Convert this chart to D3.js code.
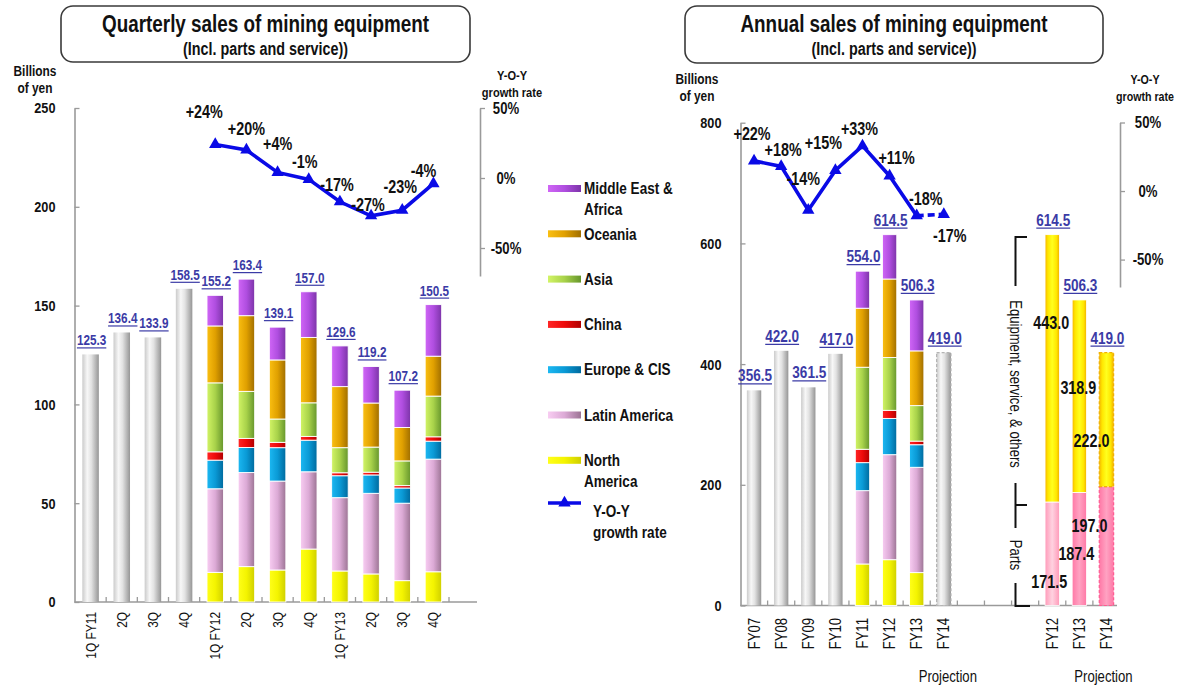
<!DOCTYPE html>
<html>
<head>
<meta charset="utf-8">
<script src="https://cdn.jsdelivr.net/npm/d3@7"></script>
<style>
  html, body { margin: 0; padding: 0; background: #ffffff; }
  svg { display: block; }
</style>
</head>
<body>
<svg id="chart" width="1184" height="696"></svg>
<script>
// ---------- data ----------
const quarterLabels = ["1Q FY11", "2Q", "3Q", "4Q", "1Q FY12", "2Q", "3Q", "4Q", "1Q FY13", "2Q", "3Q", "4Q"];
const quarterTotals = [125.3, 136.4, 133.9, 158.5, 155.2, 163.4, 139.1, 157.0, 129.6, 119.2, 107.2, 150.5];
const quarterGrowth = [null, null, null, null, 24, 20, 4, -1, -17, -27, -23, -4];
const quarterSplitStart = 4; // regional breakdown available from 1Q FY12

const regionNames = ["North America", "Latin America", "Europe & CIS", "China", "Asia", "Oceania", "Middle East & Africa"];

// quarterly sales by region, 1Q FY12 - 4Q FY13 (billions of yen)
const qNorthAmerica = [15.0, 17.9, 16.2, 26.8, 15.7, 14.2, 10.8, 15.3];
const qLatinAmerica = [42.3, 47.6, 45.0, 39.1, 37.1, 40.8, 39.2, 57.0];
const qEuropeCIS    = [14.5, 12.7, 16.9, 16.0, 11.1, 9.3, 7.7, 9.1];
const qChina        = [4.2, 4.6, 2.7, 1.9, 1.5, 1.4, 1.2, 2.2];
const qAsia         = [34.9, 23.8, 11.8, 17.0, 12.7, 12.7, 12.5, 20.6];
const qOceania      = [28.8, 38.3, 29.9, 33.1, 30.9, 22.3, 16.9, 20.2];
const qMiddleEast   = [15.5, 18.5, 16.6, 23.1, 20.6, 18.5, 18.9, 26.1];

const yearLabels = ["FY07", "FY08", "FY09", "FY10", "FY11", "FY12", "FY13", "FY14"];
const yearTotals = [356.5, 422.0, 361.5, 417.0, 554.0, 614.5, 506.3, 419.0];
const yearGrowth = [22, 18, -14, 15, 33, 11, -18, -17];
const yearProjected = [false, false, false, false, false, false, false, true];
const annualSplitStart = 4; // regional breakdown FY11 - FY13

// annual sales by region, FY11 - FY13 (billions of yen)
const aNorthAmerica = [68.8, 75.9, 54.5];
const aLatinAmerica = [121.5, 174.0, 174.5];
const aEuropeCIS    = [46.4, 60.1, 37.4];
const aChina        = [22.2, 13.4, 6.0];
const aAsia         = [135.9, 87.5, 58.8];
const aOceania      = [97.8, 130.1, 90.7];
const aMiddleEast   = [61.4, 73.5, 84.4];

// parts vs. equipment, service & others
const splitYears = ["FY12", "FY13", "FY14"];
const partsSales = [171.5, 187.4, 197.0];
const equipmentSales = [443.0, 318.9, 222.0];
const splitProjected = [false, false, true];

// ---------- layout tweaks for the growth-rate labels (pixel nudges from each point) ----------
const qGrowthLabelNudge = [[-11, -33], [0, -21], [0, -29], [-4, -18], [-3, -17], [-3, -11], [-2, -23], [-10, -13]];
const aGrowthLabelNudge = [[-2, -27], [2, -16], [-5, -31], [-12, -28], [-3, -17], [7, -18], [9, -17], [6, 22]];

// ---------- setup ----------
const svg = d3.select("#chart");
const FONT = "'Liberation Sans', Arial, Helvetica, sans-serif";
const NARROW = 0.82;
const AXIS_GREY = "#9a9a9a";
const LINE_BLUE = "#0a0ae6";
const VALUE_BLUE = "#3b3ba6";

const defs = svg.append("defs");
function hGrad(id, stops) {
  const g = defs.append("linearGradient").attr("id", id)
    .attr("x1", 0).attr("x2", 1).attr("y1", 0).attr("y2", 0);
  stops.forEach(([o, c]) => g.append("stop").attr("offset", o).attr("stop-color", c));
}
const regionKeys = ["na", "la", "eu", "cn", "as", "oc", "me"];
const regionShades = [
  ["#ffff1a", "#f4f400", "#cfcf00"],
  ["#f8cdf2", "#dcaad6", "#9c7494"],
  ["#1cb8f2", "#0a9ad6", "#006a9e"],
  ["#ff2626", "#ee0a0a", "#b00000"],
  ["#d2f466", "#a8d24a", "#66962c"],
  ["#fabf12", "#e0a000", "#a06e00"],
  ["#d066f6", "#b04ee0", "#7c34a8"]
];
regionKeys.forEach((k, i) => hGrad("reg-" + k, [[0, regionShades[i][0]], [0.5, regionShades[i][1]], [1, regionShades[i][2]]]));
hGrad("grey-bar", [[0, "#cbcbcb"], [0.3, "#f7f7f7"], [0.55, "#e2e2e2"], [1, "#969696"]]);
hGrad("equip-bar", [[0, "#f4b400"], [0.2, "#ffe600"], [0.5, "#ffff1e"], [0.8, "#ffe600"], [1, "#f0ae00"]]);
hGrad("parts-bar", [[0, "#ff78a6"], [0.5, "#ffa2c2"], [1, "#ff78a6"]]);
hGrad("parts-bar-light", [[0, "#ff9ab9"], [0.5, "#ffd2e0"], [1, "#ff9ab9"]]);

function squeeze(sel, f) {
  sel.each(function () {
    const len = this.getComputedTextLength();
    if (len > 0) d3.select(this).attr("textLength", len * f).attr("lengthAdjust", "spacingAndGlyphs");
  });
}
function txt(g, x, y, s, o = {}) {
  const t = g.append("text").attr("x", x).attr("y", y).text(s)
    .attr("font-family", FONT)
    .attr("font-size", o.size || 15)
    .attr("font-weight", o.weight || "bold")
    .attr("text-anchor", o.anchor || "middle")
    .attr("fill", o.fill || "#111");
  if (o.dy) t.attr("dy", o.dy);
  if (o.transform) t.attr("transform", o.transform);
  squeeze(t, o.squeeze || NARROW);
  return t;
}
function valueLabel(g, cx, yTop, v, size) {
  const t = txt(g, cx + 1, yTop - 9, v.toFixed(1), { size: size, fill: VALUE_BLUE });
  const b = t.node().getBBox();
  g.append("line").attr("x1", b.x).attr("x2", b.x + b.width)
    .attr("y1", yTop - 6.5).attr("y2", yTop - 6.5)
    .attr("stroke", VALUE_BLUE).attr("stroke-width", 1.2);
}
function titleBox(g, x, y, w, h, title, sub) {
  g.append("rect").attr("x", x).attr("y", y).attr("width", w).attr("height", h)
    .attr("rx", 12).attr("fill", "#fff").attr("stroke", "#3a3a3a").attr("stroke-width", 1.6);
  txt(g, x + w / 2, y + 26, title, { size: 23 });
  txt(g, x + w / 2, y + 48.5, sub, { size: 17.5 });
}
function styleAxis(a, size) {
  a.selectAll(".domain").attr("stroke", AXIS_GREY).attr("stroke-width", 1.6);
  a.selectAll(".tick line").attr("stroke", AXIS_GREY).attr("stroke-width", 1.3);
  a.selectAll(".tick text").attr("font-family", FONT).attr("font-size", size)
    .attr("font-weight", "bold").attr("fill", "#111");
  squeeze(a.selectAll(".tick text"), NARROW);
}
const pct = v => (v > 0 ? "+" : "") + v + "%";
const triangle = d3.symbol().type(d3.symbolTriangle).size(66);

// =====================================================================
// Quarterly chart
// =====================================================================
const gq = svg.append("g");
titleBox(gq, 61, 6, 409, 56, "Quarterly sales of mining equipment", "(Incl. parts and service))");

const xQ = d3.scaleBand().domain(d3.range(quarterLabels.length)).range([75, 449]);
const yQ = d3.scaleLinear().domain([0, 250]).range([602, 108]);
const gQ = d3.scaleLinear().domain([-70, 50]).range([276, 108]);
const qBarW = xQ.bandwidth() * 0.53;
const qBarX = i => xQ(i) + (xQ.bandwidth() - qBarW) / 2;
const qMid = i => xQ(i) + xQ.bandwidth() / 2;

// unit labels
txt(gq, 35, 76, "Billions", { size: 14.5 });
txt(gq, 35, 93, "of yen", { size: 14.5 });
txt(gq, 512, 80, "Y-O-Y", { size: 13.5 });
txt(gq, 512, 97, "growth rate", { size: 13.5 });

// left value axis
const axQ = gq.append("g").attr("transform", "translate(74.5,0)")
  .call(d3.axisLeft(yQ).tickValues([0, 50, 100, 150, 200, 250]).tickSizeInner(-5).tickSizeOuter(0).tickPadding(19));
styleAxis(axQ, 15.5);

// growth-rate axis
const axQG = gq.append("g").attr("transform", "translate(480,0)")
  .call(d3.axisRight(gQ).tickValues([-50, 0, 50]).tickSize(5).tickSizeOuter(0).tickFormat(d => d + "%"));
axQG.selectAll(".tick text").attr("x", 26).attr("text-anchor", "middle");
styleAxis(axQG, 16);

// category axis
gq.append("line").attr("x1", 74.5).attr("x2", 477).attr("y1", 602).attr("y2", 602)
  .attr("stroke", AXIS_GREY).attr("stroke-width", 1.6);
gq.selectAll(".qtick").data(d3.range(1, quarterLabels.length + 1)).join("line")
  .attr("class", "qtick")
  .attr("x1", i => xQ.range()[0] + i * xQ.step()).attr("x2", i => xQ.range()[0] + i * xQ.step())
  .attr("y1", 602).attr("y2", 597).attr("stroke", AXIS_GREY).attr("stroke-width", 1.3);
quarterLabels.forEach((lab, i) => {
  txt(gq, 0, 0, lab, { size: 14.5, weight: "normal", anchor: "end", dy: "0.35em",
    transform: `translate(${qMid(i)},612) rotate(-90)` });
});

// grey bars (no regional split)
const qGrey = d3.range(quarterSplitStart);
gq.selectAll(".qgrey").data(qGrey).join("rect").attr("class", "qgrey")
  .attr("x", i => qBarX(i)).attr("width", qBarW)
  .attr("y", i => yQ(quarterTotals[i])).attr("height", i => yQ(0) - yQ(quarterTotals[i]))
  .attr("fill", "url(#grey-bar)");

// stacked regional bars
const qRows = qNorthAmerica.map((_, j) => ({
  i: j + quarterSplitStart,
  na: qNorthAmerica[j], la: qLatinAmerica[j], eu: qEuropeCIS[j], cn: qChina[j],
  as: qAsia[j], oc: qOceania[j], me: qMiddleEast[j]
}));
const qStack = d3.stack().keys(regionKeys)(qRows);
gq.selectAll(".qlayer").data(qStack).join("g").attr("class", "qlayer")
  .attr("fill", s => `url(#reg-${s.key})`)
  .selectAll("rect").data(s => s).join("rect")
  .attr("x", d => qBarX(d.data.i)).attr("width", qBarW)
  .attr("y", d => yQ(d[1])).attr("height", d => yQ(d[0]) - yQ(d[1]))
  .attr("stroke", "#ffffff").attr("stroke-width", 0.9);

// totals
quarterTotals.forEach((v, i) => valueLabel(gq, qMid(i), yQ(v), v, 14.3));

// growth line
const qPts = quarterGrowth.map((v, i) => ({ i, v })).filter(d => d.v !== null);
gq.append("path").datum(qPts)
  .attr("d", d3.line().x(d => qMid(d.i)).y(d => gQ(d.v)))
  .attr("fill", "none").attr("stroke", LINE_BLUE).attr("stroke-width", 3.6);
gq.selectAll(".qmark").data(qPts).join("path").attr("class", "qmark")
  .attr("d", triangle).attr("transform", d => `translate(${qMid(d.i)},${gQ(d.v)})`)
  .attr("fill", LINE_BLUE);
qPts.forEach((d, k) => {
  const [dx, dy] = qGrowthLabelNudge[k];
  txt(gq, qMid(d.i) + dx, gQ(d.v) + dy, pct(d.v), { size: 17.5, dy: "0.35em" });
});

// legend
const lg = svg.append("g");
const legendOrder = d3.range(regionNames.length).reverse();
legendOrder.forEach((k, row) => {
  const y = 188.5 + row * 45.3;
  lg.append("rect").attr("x", 548).attr("y", y - 3.5).attr("width", 33).attr("height", 7)
    .attr("fill", `url(#reg-${regionKeys[k]})`);
  const name = regionNames[k];
  const lines = name === "Middle East & Africa" ? ["Middle East &", "Africa"]
    : name === "North America" ? ["North", "America"] : [name];
  lines.forEach((ln, j) => txt(lg, 584, y + j * 20.5, ln, { size: 16.5, anchor: "start", dy: "0.35em" }));
});
lg.append("line").attr("x1", 548).attr("x2", 581).attr("y1", 503).attr("y2", 503)
  .attr("stroke", LINE_BLUE).attr("stroke-width", 3.6);
lg.append("path").attr("d", triangle).attr("transform", "translate(564.5,503)").attr("fill", LINE_BLUE);
txt(lg, 593, 511, "Y-O-Y", { size: 16.5, anchor: "start", dy: "0.35em" });
txt(lg, 593, 532, "growth rate", { size: 16.5, anchor: "start", dy: "0.35em" });

// =====================================================================
// Annual chart
// =====================================================================
const ga = svg.append("g");
titleBox(ga, 685, 6, 418, 57, "Annual sales of mining equipment", "(Incl. parts and service))");

const annualSlots = yearLabels.map(d => "a" + d).concat(["gap1", "gap2", "gap3"], splitYears.map(d => "p" + d));
const xA = d3.scaleBand().domain(annualSlots).range([740.5, 1120]);
const yA = d3.scaleLinear().domain([0, 800]).range([605.5, 122.7]);
const gA = d3.scaleLinear().domain([-70, 50]).range([287, 122.5]);
const aBarW = xA.bandwidth() * 0.53;
const aMid = key => xA(key) + xA.bandwidth() / 2;
const aBarX = key => aMid(key) - aBarW / 2;

txt(ga, 697, 84, "Billions", { size: 14.5 });
txt(ga, 697, 101, "of yen", { size: 14.5 });
txt(ga, 1145, 84, "Y-O-Y", { size: 13 });
txt(ga, 1145, 101, "growth rate", { size: 13 });

const axA = ga.append("g").attr("transform", "translate(740.5,0)")
  .call(d3.axisLeft(yA).tickValues([0, 200, 400, 600, 800]).tickSizeInner(-5).tickSizeOuter(0).tickPadding(19));
styleAxis(axA, 15.5);

const axAG = ga.append("g").attr("transform", "translate(1120,0)")
  .call(d3.axisRight(gA).tickValues([-50, 0, 50]).tickSize(5).tickSizeOuter(0).tickFormat(d => d + "%"));
axAG.selectAll(".tick text").attr("x", 28).attr("text-anchor", "middle");
styleAxis(axAG, 16);

ga.append("line").attr("x1", 740.5).attr("x2", 1117).attr("y1", 605.5).attr("y2", 605.5)
  .attr("stroke", AXIS_GREY).attr("stroke-width", 1.6);
ga.selectAll(".atick").data(d3.range(1, annualSlots.length)).join("line")
  .attr("class", "atick")
  .attr("x1", i => xA.range()[0] + i * xA.step()).attr("x2", i => xA.range()[0] + i * xA.step())
  .attr("y1", 605.5).attr("y2", 600.5).attr("stroke", AXIS_GREY).attr("stroke-width", 1.3);

yearLabels.forEach(lab => txt(ga, 0, 0, lab, { size: 16, weight: "normal", anchor: "end", dy: "0.35em",
  transform: `translate(${aMid("a" + lab)},618) rotate(-90)` }));
splitYears.forEach(lab => txt(ga, 0, 0, lab, { size: 16, weight: "normal", anchor: "end", dy: "0.35em",
  transform: `translate(${aMid("p" + lab)},618) rotate(-90)` }));
txt(ga, aMid("aFY14") + 4, 676, "Projection", { size: 16, weight: "normal", dy: "0.35em" });
txt(ga, aMid("pFY14") - 3, 676, "Projection", { size: 16, weight: "normal", dy: "0.35em" });

// grey annual bars
const aGrey = yearLabels.map((lab, i) => ({ lab, i })).filter(d => d.i < annualSplitStart || d.i >= annualSplitStart + aNorthAmerica.length);
ga.selectAll(".agrey").data(aGrey).join("rect").attr("class", "agrey")
  .attr("x", d => aBarX("a" + d.lab)).attr("width", aBarW)
  .attr("y", d => yA(yearTotals[d.i])).attr("height", d => yA(0) - yA(yearTotals[d.i]))
  .attr("fill", "url(#grey-bar)")
  .attr("stroke", d => yearProjected[d.i] ? "#b4b4b4" : "none")
  .attr("stroke-dasharray", "3,2").attr("stroke-width", 1.2);

// stacked regional annual bars
const aRows = aNorthAmerica.map((_, j) => ({
  key: "a" + yearLabels[j + annualSplitStart],
  na: aNorthAmerica[j], la: aLatinAmerica[j], eu: aEuropeCIS[j], cn: aChina[j],
  as: aAsia[j], oc: aOceania[j], me: aMiddleEast[j]
}));
const aStack = d3.stack().keys(regionKeys)(aRows);
ga.selectAll(".alayer").data(aStack).join("g").attr("class", "alayer")
  .attr("fill", s => `url(#reg-${s.key})`)
  .selectAll("rect").data(s => s).join("rect")
  .attr("x", d => aBarX(d.data.key)).attr("width", aBarW)
  .attr("y", d => yA(d[1])).attr("height", d => yA(d[0]) - yA(d[1]))
  .attr("stroke", "#ffffff").attr("stroke-width", 0.9);

// parts / equipment bars
const splitRows = splitYears.map((lab, i) => ({
  key: "p" + lab, i, parts: partsSales[i], equipment: equipmentSales[i]
}));
const pStack = d3.stack().keys(["parts", "equipment"])(splitRows);
ga.selectAll(".player").data(pStack).join("g").attr("class", "player")
  .selectAll("rect").data(s => s.map(d => ({ layer: s.key, d }))).join("rect")
  .attr("x", o => aBarX(o.d.data.key)).attr("width", aBarW)
  .attr("y", o => yA(o.d[1])).attr("height", o => yA(o.d[0]) - yA(o.d[1]))
  .attr("fill", o => o.layer === "equipment" ? "url(#equip-bar)"
    : (o.d.data.i === 0 ? "url(#parts-bar-light)" : "url(#parts-bar)"))
  .attr("stroke", o => splitProjected[o.d.data.i] ? (o.layer === "equipment" ? "#f2b200" : "#ff5c92") : "#ffffff")
  .attr("stroke-width", o => splitProjected[o.d.data.i] ? 1.2 : 0.8)
  .attr("stroke-dasharray", o => splitProjected[o.d.data.i] ? "3,2" : null);

// segment value labels, stepped so they read as a staircase
splitRows.forEach((r, i) => {
  const cx = aMid(r.key) - (i === splitRows.length - 1 ? 15 : 1);
  const top = yA(r.parts + r.equipment);
  txt(ga, cx, top + 88, r.equipment.toFixed(1), { size: 17.5, dy: "0.35em" });
  txt(ga, cx - 2, yA(0) - 24 - 28 * i, r.parts.toFixed(1), { size: 17.5, dy: "0.35em" });
});

// bracket labels
const br = ga.append("g").attr("fill", "none").attr("stroke", "#111").attr("stroke-width", 2);
br.append("path").attr("d", "M1027,237 H1015.5 V286");
br.append("path").attr("d", "M1015.5,483 V505 H1027 M1015.5,505 V528");
br.append("path").attr("d", "M1015.5,583 V606 H1030");
txt(ga, 0, 0, "Equipment, service, & others", { size: 16, weight: "normal", dy: "0.35em",
  transform: "translate(1015.5,384) rotate(90)" });
txt(ga, 0, 0, "Parts", { size: 16, weight: "normal", dy: "0.35em",
  transform: "translate(1015.5,555) rotate(90)" });

// totals
yearLabels.forEach((lab, i) => valueLabel(ga, aMid("a" + lab), yA(yearTotals[i]), yearTotals[i], 16.5));
splitRows.forEach(r => valueLabel(ga, aMid(r.key), yA(r.parts + r.equipment), r.parts + r.equipment, 16.5));

// growth line (solid for actuals, dashed into the projection)
const aPts = yearGrowth.map((v, i) => ({ key: "a" + yearLabels[i], v, proj: yearProjected[i] }));
const aLine = d3.line().x(d => aMid(d.key)).y(d => gA(d.v));
const firstProj = aPts.findIndex(d => d.proj);
ga.append("path").datum(aPts.slice(0, firstProj)).attr("d", aLine)
  .attr("fill", "none").attr("stroke", LINE_BLUE).attr("stroke-width", 3.6);
ga.append("path").datum(aPts.slice(firstProj - 1)).attr("d", aLine)
  .attr("fill", "none").attr("stroke", LINE_BLUE).attr("stroke-width", 3.6).attr("stroke-dasharray", "7,4");
ga.selectAll(".amark").data(aPts).join("path").attr("class", "amark")
  .attr("d", triangle).attr("transform", d => `translate(${aMid(d.key)},${gA(d.v)})`)
  .attr("fill", LINE_BLUE);
aPts.forEach((d, k) => {
  const [dx, dy] = aGrowthLabelNudge[k];
  txt(ga, aMid(d.key) + dx, gA(d.v) + dy, pct(d.v), { size: 17.5, dy: "0.35em" });
});
</script>
</body>
</html>
